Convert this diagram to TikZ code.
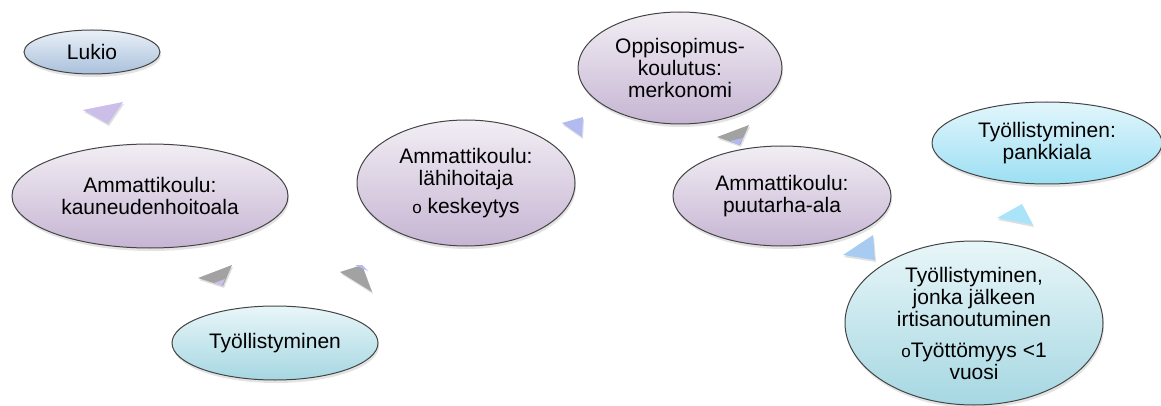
\documentclass[tikz,border=0pt]{standalone}
\usepackage{fontspec}
\setmainfont{Liberation Sans}
\usetikzlibrary{shapes.geometric,shadows}
\definecolor{reuna}{HTML}{444444}
\definecolor{siniYla}{HTML}{EAF0F7}
\definecolor{siniAla}{HTML}{A9C0DC}
\definecolor{lilaYla}{HTML}{F2EEF4}
\definecolor{lilaAla}{HTML}{C6B5D3}
\definecolor{turkYla}{HTML}{E8F6F8}
\definecolor{turkAla}{HTML}{A6D7E2}
\definecolor{taivasYla}{HTML}{E2F6FC}
\definecolor{taivasAla}{HTML}{9CDFF3}
\definecolor{harmaa}{HTML}{A2A2A2}
\definecolor{kLila}{HTML}{CBBFEA}
\definecolor{kSini}{HTML}{B2BAF2}
\definecolor{kVaalea}{HTML}{A8CBF2}
\definecolor{kTaivas}{HTML}{AAE4F8}
\tikzstyle{bubble}=[
	ellipse, draw=reuna, line width=1pt,
	inner sep=0pt, align=center,
	font=\fontsize{21}{22}\selectfont,
	drop shadow={opacity=.22,shadow xshift=1pt,shadow yshift=-3pt}
    ]
\tikzstyle{sini}=[bubble, top color=siniYla, bottom color=siniAla]
\tikzstyle{lila}=[bubble, top color=lilaYla, bottom color=lilaAla]
\tikzstyle{turk}=[bubble, top color=turkYla, bottom color=turkAla]
\tikzstyle{taivas}=[bubble, top color=taivasYla, bottom color=taivasAla]
\tikzstyle{tip}=[drop shadow={opacity=.25,shadow xshift=1pt,shadow yshift=-2pt}]
\newcommand{\kolmio}[4]{\fill[tip,#1] #2 -- #3 -- #4 -- cycle}
\newcommand{\pallo}{{\fontsize{17}{17}\selectfont o}}

\begin{document}
\begin{tikzpicture}[x=1pt,y=-1pt]
\useasboundingbox (0,0) rectangle (1161,406);

\node[sini,minimum width=136pt,minimum height=44pt] (L) at (92,52) {Lukio};
\node[lila,minimum width=276pt,minimum height=104pt] (K) at (150,196) {Ammattikoulu:\\kauneudenhoitoala};
\node[turk,minimum width=206pt,minimum height=74pt] (T1) at (275,343) {Työllistyminen};
\node[lila,minimum width=218pt,minimum height=126pt] (H) at (466,183) {Ammattikoulu:\\lähihoitaja\\[6pt]\pallo{} keskeytys};
\node[lila,minimum width=204pt,minimum height=112pt] (O) at (680,68) {Oppisopimus-\\koulutus:\\merkonomi};
\node[lila,minimum width=218pt,minimum height=100pt] (P) at (782,196) {Ammattikoulu:\\puutarha-ala};
\node[taivas,minimum width=230pt,minimum height=82pt] (T3) at (1047,143) {Työllistyminen:\\pankkiala};
\node[turk,minimum width=258pt,minimum height=164pt] (T2) at (974,323) {Työllistyminen,\\jonka jälkeen\\irtisanoutuminen\\[9pt]\pallo Työttömyys <1\\vuosi};

\kolmio{kLila}{(83,110)}{(123,102)}{(108,124)};
\kolmio{harmaa}{(198,278)}{(232,265)}{(223,286)};
\fill[kLila] (214,283) -- (225,279) -- (222,286) -- cycle;
\kolmio{harmaa}{(340,272)}{(362,265)}{(372,292)};
\fill[kSini] (355,265) -- (362,265) -- (368,271) -- cycle;
\kolmio{kSini}{(562,123)}{(583,117)}{(582,137)};
\kolmio{harmaa}{(717,137)}{(749,125)}{(740,145)};
\fill[kSini] (730,141) -- (743,138) -- (739,145) -- cycle;
\kolmio{kVaalea}{(843,255)}{(873,235)}{(875,260)};
\kolmio{kTaivas}{(997,218)}{(1022,204)}{(1033,225)};

\end{tikzpicture}
\end{document}
